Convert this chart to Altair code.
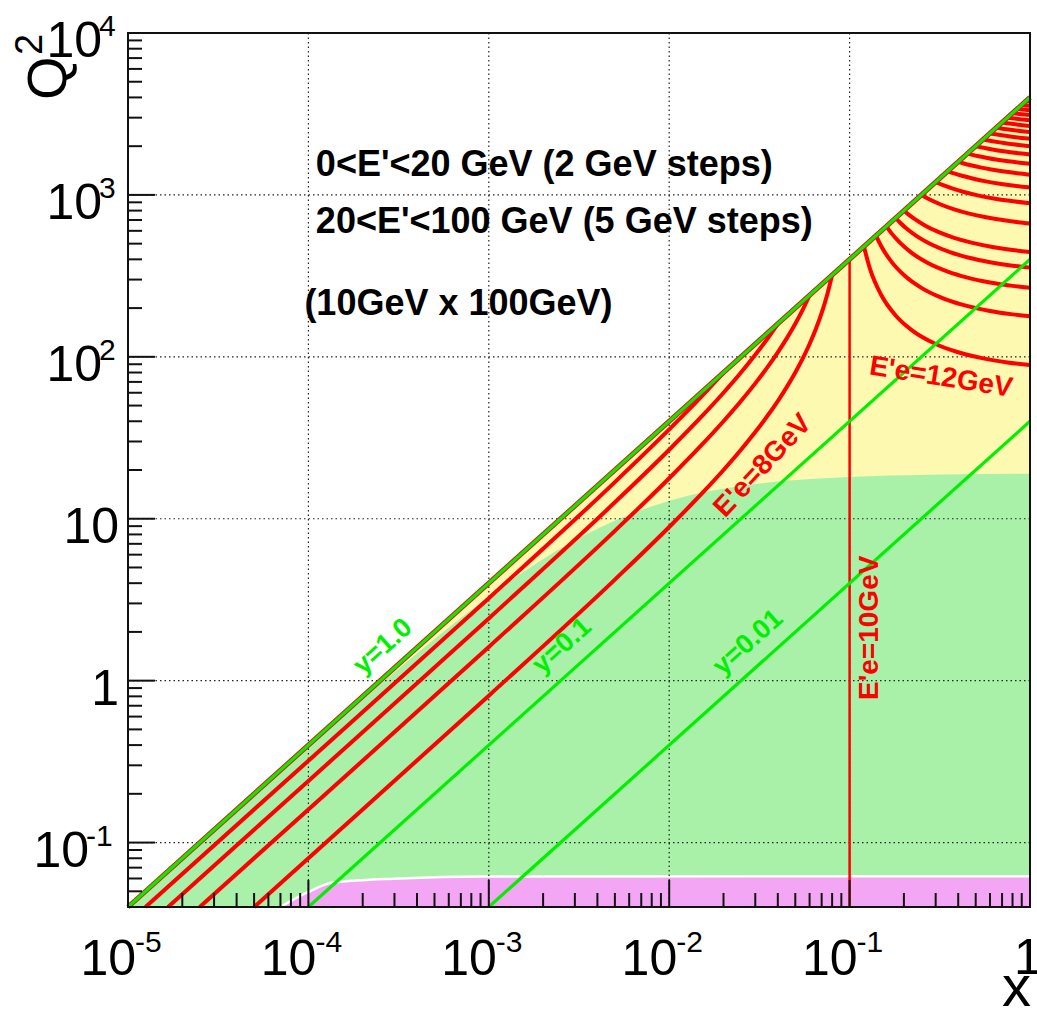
import altair as alt
import pandas as pd

# ---------------- data ----------------
x_domain = [1e-5, 1.0]
q2_domain = [0.04, 1e4]

# lines of constant y
y10_x = [1e-5, 1.0]
y10_q2 = [0.04, 4000]
y01_x = [1e-4, 1.0]
y01_q2 = [0.04, 400]
y001_x = [1e-3, 1.0]
y001_q2 = [0.04, 40]

# scattered-electron energy curves, E' < 10 GeV
e02_x = [1.25e-5, 1e-4, 1e-3, 5e-3, 0.01, 0.013, 0.016, 0.018, 0.02]
e02_q2 = [0.04, 0.3203, 3.232, 16.84, 35.6, 47.8, 61.0, 70.2, 80.0]
e04_x = [1.667e-5, 1e-4, 1e-3, 5e-3, 0.01, 0.015, 0.02, 0.025, 0.03, 0.035, 0.04]
e04_q2 = [0.04, 0.2402, 2.424, 12.63, 26.67, 42.35, 60.0, 80.0, 102.9, 129.2, 160.0]
e06_x = [2.5e-5, 1e-4, 1e-3, 5e-3, 0.01, 0.015, 0.02, 0.025, 0.03, 0.035, 0.04,
         0.045, 0.05, 0.055, 0.06]
e06_q2 = [0.04, 0.1602, 1.616, 8.42, 17.78, 28.24, 40.0, 53.33, 68.57, 86.15, 106.7,
          130.9, 160.0, 195.6, 240.0]
e08_x = [5e-5, 1e-4, 1e-3, 5e-3, 0.01, 0.015, 0.02, 0.025, 0.03, 0.035, 0.04, 0.045,
         0.05, 0.055, 0.06, 0.065, 0.07, 0.075, 0.08]
e08_q2 = [0.04, 0.0801, 0.808, 4.21, 8.89, 14.12, 20.0, 26.67, 34.29, 43.08, 53.33, 65.45,
          80.0, 97.78, 120.0, 148.6, 186.7, 240.0, 320.0]
# E' = 10 GeV : vertical line
e10_x = [0.1]
e10_q2 = [0.04, 400]

# E' > 10 GeV arcs
e12_x = [0.12, 0.13, 0.15, 0.18, 0.22, 0.30, 0.40, 0.55, 0.75, 1.0]
e12_q2 = [480, 346.7, 240, 180, 146.7, 120, 106.7, 97.8, 92.3, 88.9]
e14_x = [0.14, 0.15, 0.17, 0.20, 0.25, 0.32, 0.42, 0.60, 0.80, 1.0]
e14_q2 = [560, 480, 388.6, 320, 266.7, 232.7, 210, 192, 182.9, 177.8]
e16_x = [0.16, 0.17, 0.19, 0.22, 0.27, 0.35, 0.45, 0.60, 0.80, 1.0]
e16_q2 = [640, 582.9, 506.7, 440, 381.2, 336, 308.6, 288, 274.3, 266.7]
e18_x = [0.18, 0.19, 0.21, 0.24, 0.29, 0.36, 0.46, 0.60, 0.80, 1.0]
e18_q2 = [720, 675.6, 610.9, 548.6, 488.4, 443.1, 408.9, 384, 365.7, 355.6]
e20_x = [0.20, 0.21, 0.23, 0.26, 0.31, 0.38, 0.48, 0.62, 0.80, 1.0]
e20_q2 = [800, 763.6, 707.7, 650, 590.5, 542.9, 505.3, 476.9, 457.1, 444.4]
e25_x = [0.25, 0.26, 0.28, 0.32, 0.38, 0.46, 0.57, 0.72, 0.86, 1.0]
e25_q2 = [1000, 975, 933.3, 872.7, 814.3, 766.7, 727.7, 696.8, 678.9, 666.7]
e30_x = [0.30, 0.31, 0.33, 0.37, 0.43, 0.52, 0.63, 0.77, 1.0]
e30_q2 = [1200, 1181, 1147.8, 1096.3, 1042.4, 990.5, 950.9, 919.4, 888.9]
e35_x = [0.35, 0.36, 0.38, 0.42, 0.48, 0.57, 0.68, 0.82, 1.0]
e35_q2 = [1400, 1384.6, 1357.1, 1312.5, 1263.2, 1212.8, 1172.4, 1138.9, 1111.1]
e40_x = [0.40, 0.41, 0.43, 0.47, 0.53, 0.61, 0.72, 0.85, 1.0]
e40_q2 = [1600, 1587.1, 1563.6, 1524.3, 1479.1, 1435.3, 1393.5, 1360, 1333.3]
e45_x = [0.45, 0.46, 0.48, 0.52, 0.58, 0.66, 0.76, 0.88, 1.0]
e45_q2 = [1800, 1788.9, 1768.4, 1733.3, 1691.7, 1650, 1612.1, 1579.5, 1555.6]
e50_x = [0.50, 0.51, 0.53, 0.57, 0.63, 0.70, 0.80, 0.90, 1.0]
e50_q2 = [2000, 1990.2, 1972.1, 1940.4, 1901.9, 1866.7, 1828.6, 1800, 1777.8]
e55_x = [0.55, 0.56, 0.58, 0.62, 0.68, 0.76, 0.87, 1.0]
e55_q2 = [2200, 2191.3, 2175, 2146.2, 2110.3, 2072.7, 2033.8, 2000]
e60_x = [0.60, 0.61, 0.63, 0.67, 0.73, 0.81, 0.90, 1.0]
e60_q2 = [2400, 2392.2, 2377.4, 2350.9, 2317.5, 2281.7, 2250, 2222.2]
e65_x = [0.65, 0.66, 0.68, 0.72, 0.78, 0.86, 0.93, 1.0]
e65_q2 = [2600, 2592.9, 2579.3, 2554.8, 2523.5, 2489.5, 2465.1, 2444.4]
e70_x = [0.70, 0.71, 0.73, 0.77, 0.83, 0.91, 1.0]
e70_q2 = [2800, 2793.4, 2781, 2758.2, 2728.8, 2696.3, 2666.7]
e75_x = [0.75, 0.76, 0.78, 0.82, 0.88, 0.94, 1.0]
e75_q2 = [3000, 2993.9, 2982.4, 2961.1, 2933.3, 2909.5, 2888.9]
e80_x = [0.80, 0.81, 0.83, 0.87, 0.93, 1.0]
e80_q2 = [3200, 3194.4, 3183.6, 3163.6, 3137.3, 3111.1]
e85_x = [0.85, 0.86, 0.88, 0.92, 0.96, 1.0]
e85_q2 = [3400, 3394.7, 3384.6, 3365.9, 3348.8, 3333.3]
e90_x = [0.90, 0.91, 0.93, 0.96, 1.0]
e90_q2 = [3600, 3595.1, 3585.5, 3572.1, 3555.6]
e95_x = [0.95, 0.96, 0.98, 1.0]
e95_q2 = [3800, 3795.3, 3786.4, 3777.8]

# filled acceptance regions (upper boundaries)
green_x = [1e-5, 2.38e-4, 5.0e-4, 1.12e-3, 1.905e-3, 2.93e-3, 4.33e-3, 6.36e-3,
           9.55e-3, 0.01535, 0.0289, 0.0462, 0.0996, 0.276, 1.0]
green_q2 = [0.04, 0.906, 1.81, 3.62, 5.44, 7.25, 9.06, 10.87, 12.68, 14.5, 16.3,
            17.2, 18.1, 18.7, 18.95]
magenta_x = [7.0e-5, 9.8e-5, 1.37e-4, 3.2e-4, 9.3e-4, 1.0]
magenta_q2 = [0.040, 0.049, 0.0566, 0.060, 0.0617, 0.062]

# axis ticks and labels
x_decades = [1e-5, 1e-4, 1e-3, 1e-2, 1e-1, 1.0]
x_exponents = ["-5", "-4", "-3", "-2", "-1"]
mantissas = [2, 3, 4, 5, 6, 7, 8, 9]
q2_decades = [0.1, 1, 10, 100, 1000, 1e4]
q2_minor_low = [0.05, 0.06, 0.07, 0.08, 0.09]
ylab_a_vals = [100, 1000, 10000]
ylab_a_exp = ["2", "3", "4"]
ylab_b_vals = [0.1]
ylab_b_exp = ["-1"]
ylab_plain_vals = [10, 1]
ylab_plain_text = ["10", "1"]

# annotations
note_text = ["0<E'<20 GeV (2 GeV steps)", "20<E'<100 GeV (5 GeV steps)", "(10GeV x 100GeV)"]
note_x = [1.10e-4, 1.10e-4, 9.5e-5]
note_q2 = [1309, 582, 181.6]

green_lab_text = ["y=1.0", "y=0.1", "y=0.01"]
green_lab_x = [2.59e-4, 2.55e-3, 0.02735]
green_lab_q2 = [1.62, 1.64, 1.72]

# ---------------- styling ----------------
W, H = 902, 874
FONT = "Liberation Sans"
RED = "#ff0000"
GREEN = "#00f000"
YELLOW_FILL = "#fef9b0"
GREEN_FILL = "#a9f0a9"
MAGENTA_FILL = "#f3a6f3"

xs = alt.Scale(type="log", domain=x_domain, nice=False)
ys = alt.Scale(type="log", domain=q2_domain, nice=False)


def X(f="x"):
    return alt.X(f"{f}:Q", scale=xs, axis=None)


def Y(f="q2"):
    return alt.Y(f"{f}:Q", scale=ys, axis=None)


def cdf(name, xv, qv):
    return pd.DataFrame({"x": xv, "q2": qv, "lo": [q2_domain[0]] * len(xv), "curve": name})


# ---------------- fills ----------------
yellow = alt.Chart(cdf("y1", y10_x, y10_q2)).mark_area(color=YELLOW_FILL).encode(
    x=X(), y=Y(), y2="lo:Q")
green_area = alt.Chart(cdf("g", green_x, green_q2)).mark_area(
    color=GREEN_FILL, interpolate="monotone").encode(x=X(), y=Y(), y2="lo:Q")
magenta_area = alt.Chart(cdf("m", magenta_x, magenta_q2)).mark_area(
    color=MAGENTA_FILL, interpolate="monotone").encode(x=X(), y=Y(), y2="lo:Q")
magenta_edge = alt.Chart(cdf("m", magenta_x, magenta_q2)).mark_line(
    color="white", strokeWidth=2.5, interpolate="monotone").encode(x=X(), y=Y())

# ---------------- grid ----------------
grid_style = dict(color="#222222", strokeWidth=1.2, strokeDash=[1.5, 3])
grid_x = alt.Chart(pd.DataFrame({"v": x_decades[1:-1]})).mark_rule(**grid_style).encode(x=X("v"))
grid_y = alt.Chart(pd.DataFrame({"v": q2_decades[:-1]})).mark_rule(**grid_style).encode(y=Y("v"))

# ---------------- curves ----------------
y_lines_df = pd.concat([cdf("y=1.0", y10_x, y10_q2), cdf("y=0.1", y01_x, y01_q2),
                        cdf("y=0.01", y001_x, y001_q2)])
e0_edge = alt.Chart(cdf("E0", y10_x, y10_q2)).mark_line(color=RED, strokeWidth=5).encode(
    x=X(), y=Y())
red_df = pd.concat([
    cdf("E2", e02_x, e02_q2), cdf("E4", e04_x, e04_q2), cdf("E6", e06_x, e06_q2),
    cdf("E8", e08_x, e08_q2), cdf("E12", e12_x, e12_q2), cdf("E14", e14_x, e14_q2),
    cdf("E16", e16_x, e16_q2), cdf("E18", e18_x, e18_q2), cdf("E20", e20_x, e20_q2),
    cdf("E25", e25_x, e25_q2), cdf("E30", e30_x, e30_q2), cdf("E35", e35_x, e35_q2),
    cdf("E40", e40_x, e40_q2), cdf("E45", e45_x, e45_q2), cdf("E50", e50_x, e50_q2),
    cdf("E55", e55_x, e55_q2), cdf("E60", e60_x, e60_q2), cdf("E65", e65_x, e65_q2),
    cdf("E70", e70_x, e70_q2), cdf("E75", e75_x, e75_q2), cdf("E80", e80_x, e80_q2),
    cdf("E85", e85_x, e85_q2), cdf("E90", e90_x, e90_q2), cdf("E95", e95_x, e95_q2),
])
red_lines = alt.Chart(red_df).mark_line(color=RED, strokeWidth=4, interpolate="monotone").encode(
    x=X(), y=Y(), detail="curve:N")
e10_line = alt.Chart(pd.DataFrame({"x": e10_x * 2, "q2": e10_q2, "curve": ["E10"] * 2})).mark_line(
    color=RED, strokeWidth=2.5).encode(x=X(), y=Y(), detail="curve:N")
green_lines = alt.Chart(y_lines_df).mark_line(color=GREEN, strokeWidth=3.2).encode(
    x=X(), y=Y(), detail="curve:N")

# ---------------- ticks & frame ----------------
x_minor = [m * d for d in x_decades[:-1] for m in mantissas]
q2_minor = q2_minor_low + [m * d for d in q2_decades[:-1] for m in mantissas]
tick_style = dict(color="#111111", strokeWidth=2)
xt_major = alt.Chart(pd.DataFrame({"v": x_decades})).mark_rule(**tick_style).encode(
    x=X("v"), y=alt.value(H), y2=alt.value(H - 27))
xt_minor = alt.Chart(pd.DataFrame({"v": x_minor})).mark_rule(**tick_style).encode(
    x=X("v"), y=alt.value(H), y2=alt.value(H - 14))
yt_major = alt.Chart(pd.DataFrame({"v": q2_decades})).mark_rule(**tick_style).encode(
    y=Y("v"), x=alt.value(0), x2=alt.value(27))
yt_minor = alt.Chart(pd.DataFrame({"v": q2_minor})).mark_rule(**tick_style).encode(
    y=Y("v"), x=alt.value(0), x2=alt.value(14))
frame_df = pd.DataFrame({"x": [x_domain[0]], "x2": [x_domain[1]],
                         "q2": [q2_domain[0]], "q2b": [q2_domain[1]]})
frame = alt.Chart(frame_df).mark_rect(
    fillOpacity=0, stroke="#111111", strokeWidth=2).encode(
    x=X(), x2="x2:Q", y=Y(), y2="q2b:Q")

# ---------------- axis labels ----------------
lab = dict(font=FONT, color="black")
xl_df = pd.DataFrame({"v": x_decades[:-1], "b": ["10"] * 5, "e": x_exponents})
xl_base = alt.Chart(xl_df).mark_text(align="right", baseline="alphabetic", fontSize=50, dx=8,
                                     **lab).encode(x=X("v"), y=alt.value(942), text="b:N")
xl_exp = alt.Chart(xl_df).mark_text(align="left", baseline="alphabetic", fontSize=30, dx=7,
                                    **lab).encode(x=X("v"), y=alt.value(919), text="e:N")
xl_one = alt.Chart(pd.DataFrame({"v": [x_decades[-1]], "t": ["1"]})).mark_text(
    align="center", baseline="alphabetic", fontSize=50, dx=-2, **lab).encode(
    x=X("v"), y=alt.value(941), text="t:N")

yl_a = pd.DataFrame({"v": ylab_a_vals, "b": ["10"] * 3, "e": ylab_a_exp})
yl_b = pd.DataFrame({"v": ylab_b_vals, "b": ["10"], "e": ylab_b_exp})
yl_a_base = alt.Chart(yl_a).mark_text(align="right", baseline="alphabetic", fontSize=50, dy=24,
                                      **lab).encode(y=Y("v"), x=alt.value(-26), text="b:N")
yl_a_exp = alt.Chart(yl_a).mark_text(align="left", baseline="alphabetic", fontSize=30, dy=3,
                                     **lab).encode(y=Y("v"), x=alt.value(-29), text="e:N")
yl_b_base = alt.Chart(yl_b).mark_text(align="right", baseline="alphabetic", fontSize=50, dy=24,
                                      **lab).encode(y=Y("v"), x=alt.value(-39), text="b:N")
yl_b_exp = alt.Chart(yl_b).mark_text(align="left", baseline="alphabetic", fontSize=30, dy=3,
                                     **lab).encode(y=Y("v"), x=alt.value(-42), text="e:N")
yl_plain = alt.Chart(pd.DataFrame({"v": ylab_plain_vals, "t": ylab_plain_text})).mark_text(
    align="right", baseline="alphabetic", fontSize=50, dy=24, **lab).encode(
    y=Y("v"), x=alt.value(-9), text="t:N")

title_q = alt.Chart(pd.DataFrame({"t": ["Q"]})).mark_text(
    align="left", baseline="alphabetic", fontSize=56, angle=270, **lab).encode(
    x=alt.value(-62), y=alt.value(67), text="t:N")
title_q2 = alt.Chart(pd.DataFrame({"t": ["2"]})).mark_text(
    align="left", baseline="alphabetic", fontSize=38, angle=270, **lab).encode(
    x=alt.value(-86), y=alt.value(22), text="t:N")
title_x = alt.Chart(pd.DataFrame({"t": ["x"]})).mark_text(
    align="right", baseline="alphabetic", fontSize=58, **lab).encode(
    x=alt.value(W + 1), y=alt.value(973), text="t:N")

# ---------------- annotations ----------------
notes = alt.Chart(pd.DataFrame({"x": note_x, "q2": note_q2, "t": note_text})).mark_text(
    align="left", baseline="alphabetic", fontSize=36, fontWeight="bold", font=FONT,
    color="black").encode(x=X(), y=Y(), text="t:N")
green_labels = alt.Chart(pd.DataFrame({"x": green_lab_x, "q2": green_lab_q2,
                                       "t": green_lab_text})).mark_text(
    align="center", baseline="middle", fontSize=27, fontWeight="bold", font=FONT,
    color=GREEN, angle=318).encode(x=X(), y=Y(), text="t:N")


def red_label(text, xv, qv, ang):
    return alt.Chart(pd.DataFrame({"x": [xv], "q2": [qv], "t": [text]})).mark_text(
        align="center", baseline="middle", fontSize=28, fontWeight="bold", font=FONT,
        color=RED, angle=ang).encode(x=X(), y=Y(), text="t:N")


lab8 = red_label("E'e=8GeV", 0.0331, 21.2, 313)
lab10 = red_label("E'e=10GeV", 0.1297, 2.12, 270)
lab12 = red_label("E'e=12GeV", 0.321, 74.4, 9)

chart = alt.layer(
    yellow, green_area, magenta_area, magenta_edge, grid_x, grid_y,
    e0_edge, red_lines, e10_line, green_lines,
    xt_major, xt_minor, yt_major, yt_minor, frame,
    xl_base, xl_exp, xl_one, yl_a_base, yl_a_exp, yl_b_base, yl_b_exp, yl_plain,
    title_q, title_q2, title_x, notes, green_labels, lab8, lab10, lab12,
).properties(
    width=W, height=H,
    autosize=alt.AutoSizeParams(type="none"),
    padding={"left": 128, "top": 33, "right": 7, "bottom": 102},
    background="white",
).configure_view(stroke=None)

chart.save("out.html", embed_options={"renderer": "svg", "actions": False})
